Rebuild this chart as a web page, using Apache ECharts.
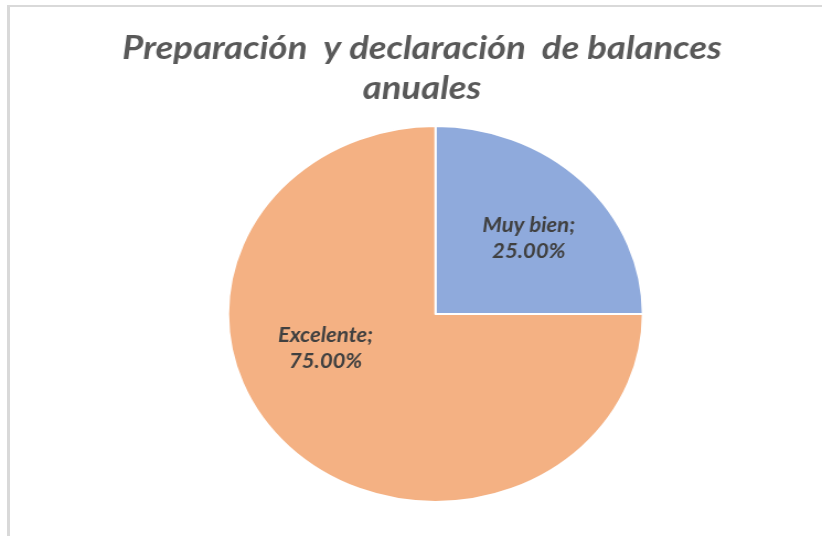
<!DOCTYPE html>
<html>
<head>
<meta charset="utf-8">
<script src="https://cdn.jsdelivr.net/npm/echarts@6/dist/echarts.min.js"></script>
<style>
  html, body { margin: 0; padding: 0; background: #fff; width: 822px; height: 536px; overflow: hidden; }
  #frame { position: absolute; left: 7px; top: 5px; width: 840px; height: 560px;
           border-top: 2px solid #d9d9d9; border-left: 3px solid #d9d9d9; box-sizing: border-box; }
  #chart { position: absolute; left: 0; top: 0; width: 745px; height: 536px;
           transform-origin: 0 0; transform: scaleX(1.1033); }
</style>
</head>
<body>
<div id="frame"></div>
<div id="chart"></div>
<script>
const titleText = 'Preparación  y declaración  de balances\nanuales';
const categories = ['Muy bien', 'Excelente'];
const values = [25, 75];
const colors = ['#8faadc', '#f4b183'];
const labelOffsets = [[16, -7], [-31, -34]];

const chart = echarts.init(document.getElementById('chart'), null, { renderer: 'canvas' });
chart.setOption({
  animation: false,
  title: {
    text: titleText,
    left: 382.5,
    top: 28,
    padding: 0,
    textAlign: 'center',
    textStyle: {
      color: '#595959',
      fontFamily: 'Lato',
      fontStyle: 'italic',
      fontWeight: 'bold',
      fontSize: 33,
      lineHeight: 40
    }
  },
  series: [{
    type: 'pie',
    center: [394.7, 314],
    radius: 188,
    startAngle: 90,
    clockwise: true,
    avoidLabelOverlap: false,
    itemStyle: { borderColor: '#ffffff', borderWidth: 2 },
    label: {
      show: true,
      position: 'inside',
      color: '#404040',
      fontFamily: 'Lato',
      fontStyle: 'italic',
      fontWeight: 'bold',
      fontSize: 20,
      lineHeight: 26,
      align: 'center',
      formatter: p => p.name + ';\n' + p.percent.toFixed(2) + '%'
    },
    labelLine: { show: false },
    emphasis: { disabled: true },
    data: categories.map((c, i) => ({
      name: c,
      value: values[i],
      itemStyle: { color: colors[i] },
      label: { offset: labelOffsets[i] }
    }))
  }]
});
</script>
</body>
</html>
